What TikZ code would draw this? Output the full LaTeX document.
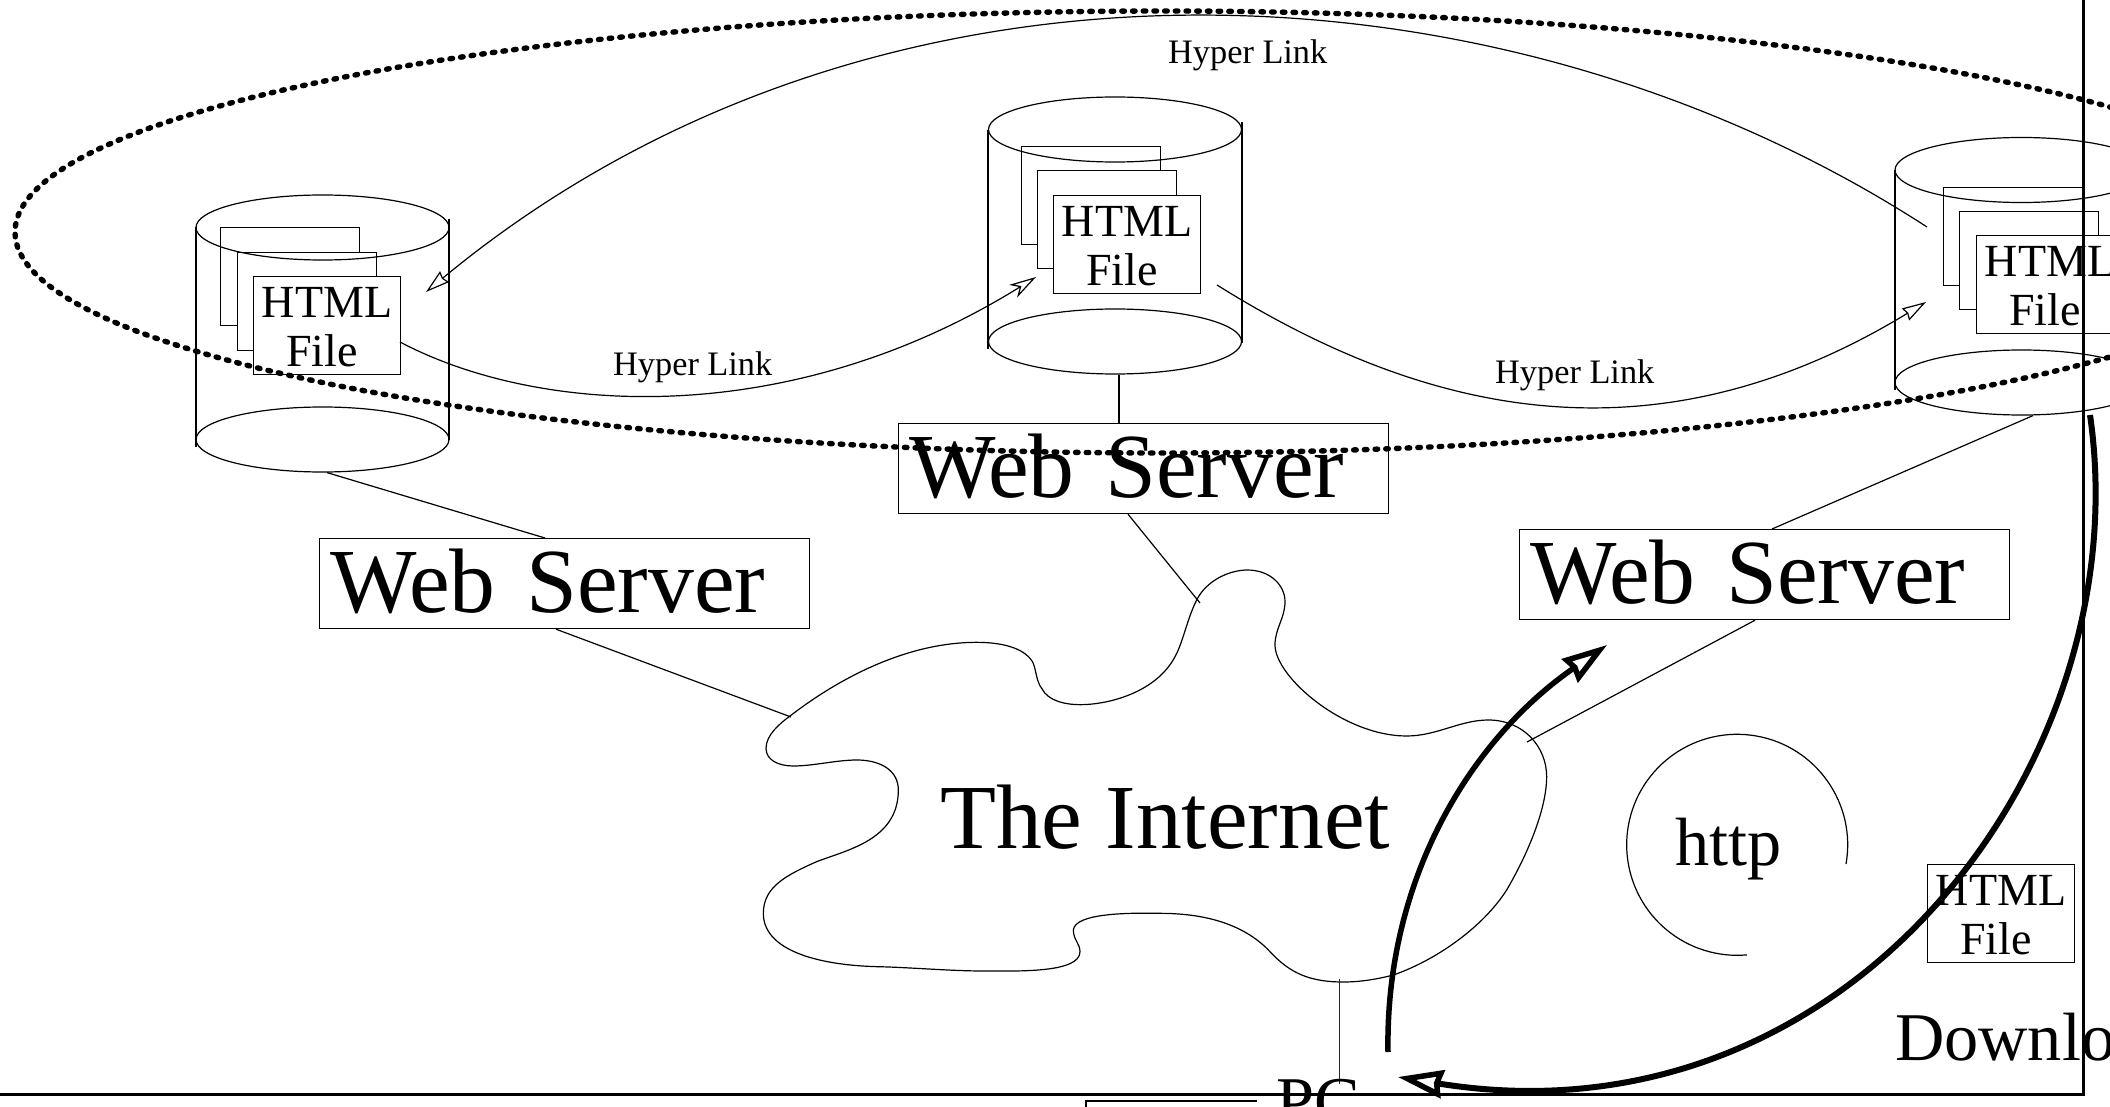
\documentclass[tikz,border=0pt]{standalone}
\usepackage{fontspec}
\setmainfont{Liberation Serif}
\usetikzlibrary{arrows.meta,shapes.geometric}
\newcommand{\fsz}[1]{\fontsize{#1}{#1}\selectfont}
\tikzset{
  thinline/.style={line width=1.2pt,black},
  hairline/.style={line width=0.9pt,black!85},
  thickline/.style={line width=5.5pt,black},
  framerule/.style={line width=3pt,black},
  dotring/.style={line width=5.4pt,line cap=round,dash pattern=on 2.6pt off 8.1pt},
  pagebox/.style={draw,thinline,fill=white,minimum width=139pt,minimum height=98pt,inner sep=0pt},
  htmlbox/.style={draw,thinline,fill=white,minimum width=147pt,minimum height=98pt,inner sep=0pt,
    align=center,text height=82pt,text depth=0pt,font=\fontsize{46}{49}\selectfont},
  wsbox/.style={draw,thinline,minimum width=490pt,minimum height=90pt,inner xsep=10.5pt,inner ysep=8pt,
    text width=469pt,align=left,text height=66pt,text depth=8pt,font=\fsz{91.6}},
  disc/.style={ellipse,draw,thinline,minimum width=253pt,minimum height=65pt,inner sep=0pt},
  lbl/.style={inner sep=0pt,anchor=base west},
  openhead/.style={-{Stealth[fill=white,length=24pt,width=14pt,inset=2pt,line width=1.2pt]}},
  barbhead/.style={-{Stealth[fill=white,length=27pt,width=15pt,inset=8pt,line width=1.2pt]}},
  boldhead/.style={-{Stealth[fill=white,length=45pt,width=28pt,inset=3pt,line width=5.5pt]}},
}
\begin{document}
\begin{tikzpicture}[x=1pt,y=-1pt]
\useasboundingbox (0,0) rectangle (2110,1107);
\clip (0,0) rectangle (2110,1107);

% left cylinder
\node[pagebox,anchor=north west] (p1a) at (220,227) {};
\node[pagebox,anchor=north west] (p1b) at (237,252) {};
\node[htmlbox,anchor=north west] (f1) at (253,276) {HTML\\File\hspace*{10pt}};
\node[disc] (c1t) at (322.5,227.5) {};
\node[disc] (c1b) at (322.5,439.5) {};
\draw[thinline] (196,227) -- (196,447);
\draw[thinline] (449,219) -- (449,440);

% middle cylinder
\node[pagebox,anchor=north west] (p2a) at (1021,146) {};
\node[pagebox,anchor=north west] (p2b) at (1037,170) {};
\node[htmlbox,anchor=north west] (f2) at (1053,195) {HTML\\File\hspace*{10pt}};
\node[disc] (c2t) at (1115,129.5) {};
\node[disc] (c2b) at (1115,341.5) {};
\draw[thinline] (988,130) -- (988,349);
\draw[thinline] (1242,122) -- (1242,343);

% right cylinder
\node[pagebox,anchor=north west] (p3a) at (1943,187) {};
\node[pagebox,anchor=north west] (p3b) at (1959,211) {};
\node[htmlbox,anchor=north west] (f3) at (1976,235) {HTML\\File\hspace*{10pt}};
\node[disc] (c3t) at (2021.5,170) {};
\node[disc] (c3b) at (2021.5,382.5) {};
\draw[thinline] (1895,170) -- (1895,390);

% web servers
\node[wsbox,anchor=north west] (ws1) at (319,538) {Web Server};
\node[wsbox,anchor=north west] (ws2) at (898,423) {Web Server};
\node[wsbox,anchor=north west] (ws3) at (1519,529) {Web Server};

% internet cloud
\begin{scope}[shift={(750,560)},x=0.33333pt,y=-0.33333pt]
\draw[line width=1.2pt,line join=round] (48,565)
 .. controls (48,525) and (90,490) .. (120,468)
 .. controls (280,345) and (480,247) .. (680,247)
 .. controls (770,247) and (830,270) .. (850,310)
 .. controls (860,340) and (860,365) .. (875,385)
 .. controls (895,425) and (950,434) .. (990,434)
 .. controls (1080,434) and (1220,395) .. (1275,290)
 .. controls (1300,245) and (1310,180) .. (1340,120)
 .. controls (1370,60) and (1440,30) .. (1492,30)
 .. controls (1560,30) and (1605,75) .. (1605,125)
 .. controls (1605,175) and (1575,205) .. (1575,255)
 .. controls (1575,350) and (1780,528) .. (1970,528)
 .. controls (2060,528) and (2130,480) .. (2215,480)
 .. controls (2320,480) and (2390,560) .. (2390,650)
 .. controls (2390,740) and (2340,870) .. (2270,990)
 .. controls (2200,1100) and (2060,1200) .. (1930,1245)
 .. controls (1880,1258) and (1830,1266) .. (1780,1266)
 .. controls (1680,1266) and (1620,1240) .. (1560,1175)
 .. controls (1490,1100) and (1380,1060) .. (1230,1060)
 .. controls (1130,1058) and (975,1060) .. (970,1110)
 .. controls (970,1140) and (990,1150) .. (990,1175)
 .. controls (990,1240) and (800,1233) .. (700,1233)
 .. controls (600,1233) and (480,1222) .. (380,1220)
 .. controls (200,1215) and (40,1170) .. (40,1060)
 .. controls (40,980) and (110,945) .. (200,905)
 .. controls (290,870) and (445,840) .. (445,690)
 .. controls (445,630) and (390,600) .. (320,600)
 .. controls (260,600) and (190,618) .. (130,618)
 .. controls (85,618) and (48,600) .. (48,565) -- cycle;
\end{scope}
\node[lbl,font=\fsz{91.6}] (inet) at (940,848) {The Internet};

% connector ends on the cloud
\coordinate (cl1) at (791,717);
\coordinate (cl2) at (1200,603);
\coordinate (cl3) at (1527,742);
\coordinate (cl4) at (1339,979);
\coordinate (pcj) at (1339,1084);

\draw[thinline] ([xshift=4.5pt]c1b.south) -- ([xshift=226pt]ws1.north west);
\draw[thinline] ([xshift=237pt]ws1.south west) -- (cl1);
\draw[thinline] ([xshift=4pt]c2b.south) -- ([xshift=221pt]ws2.north west);
\draw[thinline] ([xshift=230pt]ws2.south west) -- (cl2);
\draw[thinline] ([xshift=11.5pt]c3b.south) -- ([xshift=253pt]ws3.north west);
\draw[thinline] ([xshift=236pt]ws3.south west) -- (cl3);
\draw[hairline] (cl4) -- (pcj);

% dotted ring
\draw[dotring] (1163,232) ellipse [x radius=1148pt,y radius=221pt];

% hyper links
\coordinate (h1s) at (1927,227);
\coordinate (h1e) at (426,292);
\coordinate (h2s) at (400,342);
\coordinate (h2e) at (1036,277);
\coordinate (h3s) at (1217,285);
\coordinate (h3e) at (1926,302);
\draw[thinline,openhead] (h1s) .. controls (1500,-50) and (873,-78) .. (h1e);
\draw[thinline,barbhead] (h2s) .. controls (540,416) and (790,430) .. (h2e);
\draw[thinline,openhead] (h3s) .. controls (1420,412) and (1650,470) .. (h3e);
\node[lbl,font=\fsz{34.3}] (hl1) at (1168,64) {Hyper Link};
\node[lbl,font=\fsz{34.3}] (hl2) at (613,375) {Hyper Link};
\node[lbl,font=\fsz{34.3}] (hl3) at (1495,383) {Hyper Link};

% http
\draw[line width=1.2pt] (1846,864) arc[start angle=-10,end angle=275,radius=110.5pt];
\node[lbl,font=\fsz{68.3}] (http) at (1675,865) {http};

% download
\node[htmlbox,anchor=north west] (f4) at (1927,864) {HTML\\File\hspace*{10pt}};
\node[lbl,font=\fsz{68.3}] (dl) at (1895,1060) {Downlo};

% pc
\node[lbl,font=\fsz{68.3}] (pc) at (1276,1124) {PC};
\draw[thinline] (1086,1110) -- (1086,1101) -- (1257,1101);

% bold arrows
\coordinate (a1s) at (1388,1052);
\coordinate (a1e) at (1607,645);
\coordinate (a2s) at (2090,415);
\coordinate (a2e) at (1398,1077);
\draw[thickline,boldhead] (a1s) .. controls (1385,880) and (1470,740) .. (a1e);
\draw[thickline,boldhead,line width=6pt] (a2s) .. controls (2140,760) and (1850,1150) .. (a2e);

% frame
\draw[framerule] (0,1094) -- (2083,1094) -- (2083,0);
\end{tikzpicture}
\end{document}
